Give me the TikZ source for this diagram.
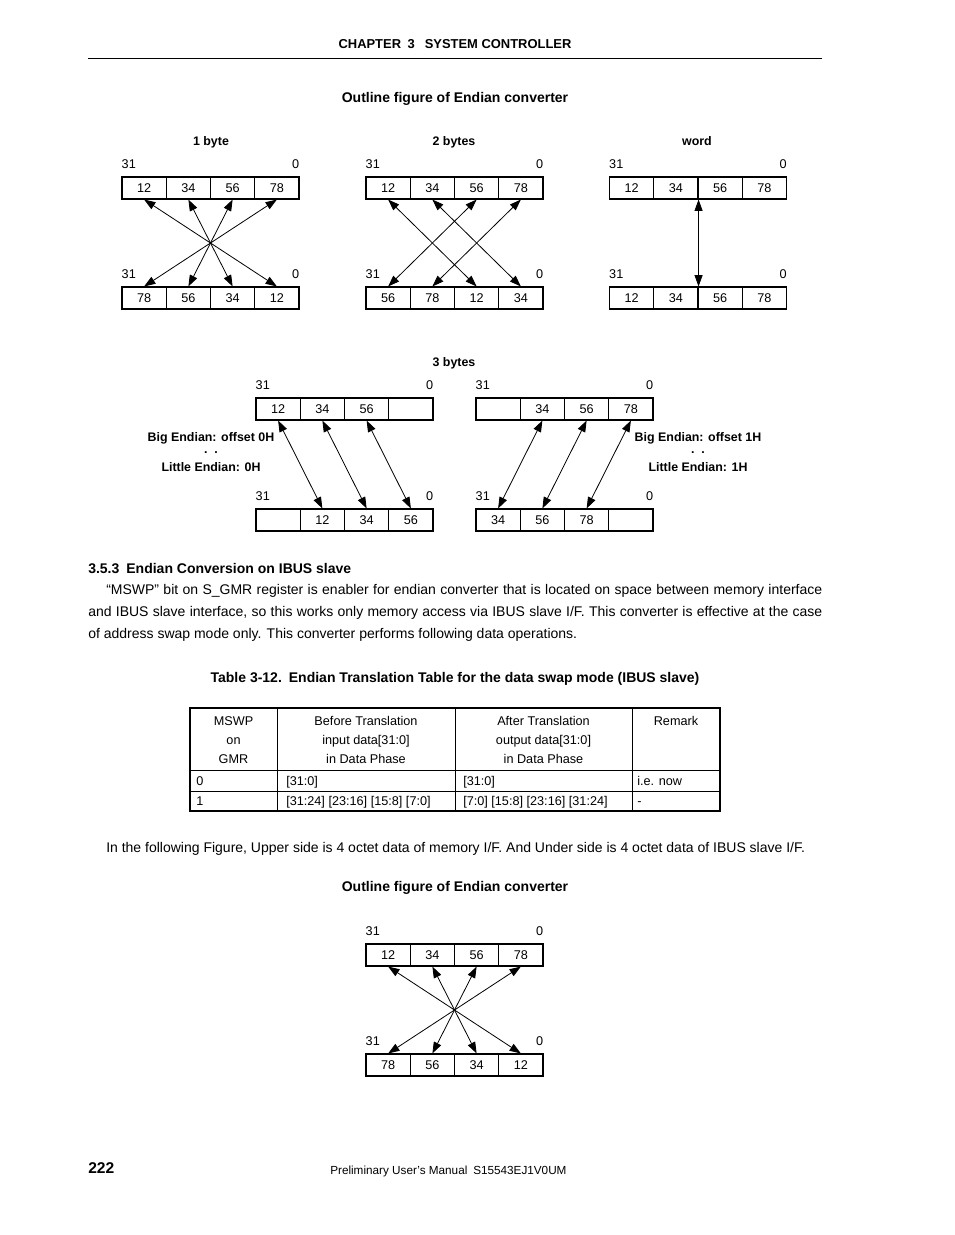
\documentclass[tikz,border=0pt]{standalone}
\usepackage{fontspec}
\setmainfont{Liberation Sans}
\usetikzlibrary{arrows.meta,positioning}

\tikzset{
  cell/.style={draw, line width=0.8pt, minimum width=33.2pt, minimum height=16.5pt, inner sep=0pt, font=\fontsize{9.5}{11}\selectfont},
  bitno/.style={inner sep=0pt, font=\fontsize{9.5}{11}\selectfont},
  xchg/.style={{Triangle[length=8.5pt,width=6pt]}-{Triangle[length=8.5pt,width=6pt]}, line width=0.6pt},
  ttl/.style={inner sep=0pt, anchor=base, font=\fontsize{10.5}{12}\selectfont\bfseries},
  sub/.style={inner sep=0pt, anchor=base, font=\fontsize{9.3}{11}\selectfont\bfseries},
  body/.style={inner sep=0pt, font=\fontsize{10.5}{16.5}\selectfont},
  tab/.style={inner sep=0pt, font=\fontsize{9.5}{14.25}\selectfont},
}

% a row of four byte cells, with 31 and 0 above it
\newcommand{\byterow}[4]{%
  \foreach \v [count=\i] in {#4}
    \node[cell] (#1-\i) at ({#2+44.25*(\i-0.5)},#3) {\v};
  \node[bitno, anchor=south west] (#1-hi) at ([yshift=5.6pt]#1-1.north west) {31};
  \node[bitno, anchor=south east] (#1-lo) at ([yshift=5.6pt]#1-4.north east) {0};
}

\begin{document}
\begin{tikzpicture}[x=0.75pt, y=-0.75pt]
    \useasboundingbox (0,0) rectangle (954,1235);

    % page head
    \node[inner sep=0pt, anchor=base, font=\fontsize{9.7}{12}\selectfont\bfseries] (chap) at (455,48.5) {CHAPTER\enspace 3\enspace\ SYSTEM CONTROLLER};
    \draw[line width=0.6pt] (88,58) -- (822,58);
    \node[ttl] (fig1) at (455,102) {Outline figure of Endian converter};

    % 1 byte
    \node[sub] (one) at (211,145) {1 byte};
    \byterow{oneT}{122}{188}{12,34,56,78}
    \byterow{oneB}{122}{298}{78,56,34,12}
    \foreach \a/\b in {1/4,2/3,3/2,4/1}
        \draw[xchg] (oneT-\a.south) -- (oneB-\b.north);

    % 2 bytes
    \node[sub] (two) at (454,145) {2 bytes};
    \byterow{twoT}{366}{188}{12,34,56,78}
    \byterow{twoB}{366}{298}{56,78,12,34}
    \foreach \a/\b in {1/3,2/4,3/1,4/2}
        \draw[xchg] (twoT-\a.south) -- (twoB-\b.north);

    % word
    \node[sub] (word) at (697,145) {word};
    \byterow{wordT}{609.5}{188}{12,34,56,78}
    \byterow{wordB}{609.5}{298}{12,34,56,78}
    \draw[xchg] (wordT-2.south east) -- (wordB-2.north east);

    % 3 bytes
    \node[sub] (three) at (454,366) {3 bytes};
    \byterow{thrLT}{256}{409}{12,34,56,{}}
    \byterow{thrLB}{256}{520}{{},12,34,56}
    \foreach \a/\b in {1/2,2/3,3/4}
        \draw[xchg] (thrLT-\a.south) -- (thrLB-\b.north);
    \byterow{thrRT}{476}{409}{{},34,56,78}
    \byterow{thrRB}{476}{520}{34,56,78,{}}
    \foreach \a/\b in {2/1,3/2,4/3}
        \draw[xchg] (thrRT-\a.south) -- (thrRB-\b.north);
    \node[sub] (bigL) at (211,441) {Big Endian: offset 0H};
    \node[sub] (dotL) at (211,453) {.\hspace{5pt}.};
    \node[sub] (litL) at (211,471) {Little Endian: 0H};
    \node[sub] (bigR) at (698,441) {Big Endian: offset 1H};
    \node[sub] (dotR) at (698,453) {.\hspace{5pt}.};
    \node[sub] (litR) at (698,471) {Little Endian: 1H};

    % 3.5.3
    \node[ttl, anchor=base west] (sec) at (88,573) {3.5.3\enspace Endian Conversion on IBUS slave};
    \node[body, text width=550.5pt, align=justify, anchor=north west] (para) at (88,584)
        {\hspace*{13.5pt}“MSWP” bit on S\_GMR register is enabler for endian converter that is located on space between memory interface\linebreak
         and IBUS slave interface, so this works only memory access via IBUS slave I/F. This converter is effective at the case\linebreak
         of address swap mode only. This converter performs following data operations.};

    % table 3-12
    \node[ttl] (tcap) at (455,682) {Table 3-12.\enspace Endian Translation Table for the data swap mode (IBUS slave)};
    \draw[line width=1.2pt] (190,708) rectangle (720,811);
    \draw[line width=0.7pt] (190,770) -- (720,770);
    \draw[line width=0.7pt] (190,791) -- (720,791);
    \foreach \x in {277,455,632}
        \draw[line width=0.7pt] (\x,708) -- (\x,811);
    \node[tab, align=center, anchor=north] (h1) at (233.5,716) {MSWP\\on\\GMR};
    \node[tab, align=center, anchor=north] (h2) at (366,716) {Before Translation\\input data[31:0]\\in Data Phase};
    \node[tab, align=center, anchor=north] (h3) at (543.5,716) {After Translation\\output data[31:0]\\in Data Phase};
    \node[tab, align=center, anchor=north] (h4) at (676,716) {Remark};
    \node[tab, anchor=base west] (r1a) at (196,785) {0};
    \node[tab, anchor=base west] (r1b) at (286,785) {[31:0]};
    \node[tab, anchor=base west] (r1c) at (463,785) {[31:0]};
    \node[tab, anchor=base west] (r1d) at (637,785) {i.e. now};
    \node[tab, anchor=base west] (r2a) at (196,805) {1};
    \node[tab, anchor=base west] (r2b) at (286,805) {[31:24] [23:16] [15:8] [7:0]};
    \node[tab, anchor=base west] (r2c) at (463,805) {[7:0] [15:8] [23:16] [31:24]};
    \node[tab, anchor=base west] (r2d) at (637,805) {-};

    \node[body, anchor=base west] (note) at (106,852) {In the following Figure, Upper side is 4 octet data of memory I/F. And Under side is 4 octet data of IBUS slave I/F.};

    % IBUS slave converter
    \node[ttl] (fig2) at (455,891) {Outline figure of Endian converter};
    \byterow{ibusT}{366}{955}{12,34,56,78}
    \byterow{ibusB}{366}{1065}{78,56,34,12}
    \foreach \a/\b in {1/4,2/3,3/2,4/1}
        \draw[xchg] (ibusT-\a.south) -- (ibusB-\b.north);

    % page foot
    \node[inner sep=0pt, anchor=base west, font=\fontsize{11.7}{14}\selectfont\bfseries] (pgno) at (88,1173) {222};
    \node[inner sep=0pt, anchor=base west, font=\fontsize{8.8}{11}\selectfont] (foot) at (330,1174) {Preliminary User’s Manual\enspace S15543EJ1V0UM};
\end{tikzpicture}
\end{document}
